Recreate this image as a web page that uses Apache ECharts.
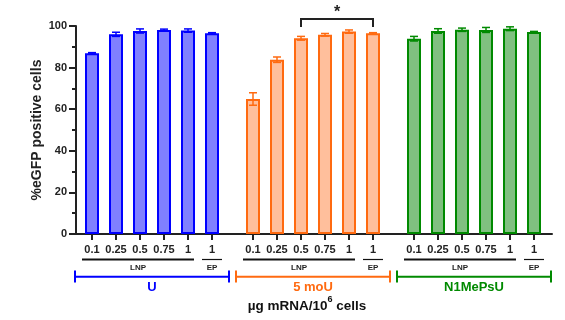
<!DOCTYPE html>
<html lang="en">
<head>
    <meta charset="UTF-8">
    <title>eGFP</title>
    <script src="https://cdn.jsdelivr.net/npm/echarts@6/dist/echarts.min.js"></script>
    <style>
        * { margin: 0; padding: 0 }
        html, body { width: 100%; height: 100%; background: #fff; }
        #main { width: 565px; height: 320px; }
    </style>
</head>
<body>
<div id="main"></div>
<script type="text/javascript">
    // doses (ug mRNA / 10^6 cells); last one is EP, the rest LNP
    var doses = ['0.1', '0.25', '0.5', '0.75', '1', '1'];
    var groupNames = ['U', '5 moU', 'N1MePsU'];
    var uMean = [86.9, 96.0, 97.6, 98.1, 97.8, 96.5];
    var uSd = [0.3, 1.0, 1.0, 0.4, 0.8, 0.3];
    var moUMean = [64.9, 83.8, 94.1, 95.8, 97.3, 96.5];
    var moUSd = [3.0, 1.3, 0.9, 0.6, 0.8, 0.3];
    var n1Mean = [93.9, 97.6, 98.2, 98.1, 98.7, 97.1];
    var n1Sd = [1.1, 1.1, 0.8, 1.2, 0.9, 0.3];
    var yTicks = [0, 20, 40, 60, 80, 100];

    var means = [uMean, moUMean, n1Mean];
    var sds = [uSd, moUSd, n1Sd];
    var fills = ['#8080ff', '#ffbf9c', '#80c080'];
    var lines = ['#0000ff', '#ff6a10', '#008a00'];
    var font = 'Liberation Sans, Arial, sans-serif';

    var chart = echarts.init(document.getElementById('main'));

    var grids = [{left: 76, right: 13, top: 26, bottom: 86}];
    var xAxes = [{
        type: 'value', gridIndex: 0, min: 0, max: 1,
        axisLine: {lineStyle: {color: '#222', width: 2}},
        axisTick: {show: false}, axisLabel: {show: false}, splitLine: {show: false}
    }];
    var yAxes = [{
        type: 'value', gridIndex: 0, min: 0, max: 100, interval: 20,
        name: '%eGFP positive cells', nameLocation: 'middle', nameGap: 32, nameMoveOverlap: false,
        nameTextStyle: {fontFamily: font, fontWeight: 'bold', fontSize: 14, color: '#222'},
        axisLine: {show: true, lineStyle: {color: '#222', width: 2}},
        axisTick: {length: 7, lineStyle: {width: 2, color: '#222'}},
        minorTick: {show: true, splitNumber: 2, length: 4, lineStyle: {width: 2, color: '#222'}},
        axisLabel: {fontFamily: font, fontWeight: 'bold', fontSize: 11, color: '#222', margin: 9,
            formatter: function (v) { return yTicks.indexOf(v) >= 0 ? v : ''; }},
        splitLine: {show: false}
    }];
    var series = [];
    var lefts = [80, 241, 402];

    function annot(g) {
        return function (params, api) {
            var c0 = api.coord([0, 0]);
            var c4 = api.coord([4, 0]);
            var c5 = api.coord([5, 0]);
            var y0 = c0[1];
            var col = lines[g];
            var bl = c0[0] - 17, br = c5[0] + 17;
            var ts = {fontFamily: font, fontWeight: 'bold', fontSize: 8, fill: '#222',
                textAlign: 'center', textVerticalAlign: 'middle'};
            return {
                type: 'group',
                children: [
                    {type: 'line', shape: {x1: c0[0] - 10, y1: y0 + 25.5, x2: c4[0] + 6, y2: y0 + 25.5},
                        style: {stroke: '#111', lineWidth: 2}},
                    {type: 'text', style: Object.assign({text: 'LNP', x: (c0[0] + c4[0] - 4) / 2, y: y0 + 34}, ts)},
                    {type: 'line', shape: {x1: c5[0] - 10, y1: y0 + 25.5, x2: c5[0] + 10, y2: y0 + 25.5},
                        style: {stroke: '#111', lineWidth: 1.2}},
                    {type: 'text', style: Object.assign({text: 'EP', x: c5[0], y: y0 + 34}, ts)},
                    {type: 'line', shape: {x1: bl, y1: y0 + 42.7, x2: br, y2: y0 + 42.7},
                        style: {stroke: col, lineWidth: 2}},
                    {type: 'line', shape: {x1: bl, y1: y0 + 36.5, x2: bl, y2: y0 + 48.5},
                        style: {stroke: col, lineWidth: 2}},
                    {type: 'line', shape: {x1: br, y1: y0 + 36.5, x2: br, y2: y0 + 48.5},
                        style: {stroke: col, lineWidth: 2}},
                    {type: 'text', style: {text: groupNames[g], x: (bl + br) / 2, y: y0 + 53,
                        fontFamily: font, fontWeight: 'bold', fontSize: 13, fill: col,
                        textAlign: 'center', textVerticalAlign: 'middle'}}
                ]
            };
        };
    }

    for (var g = 0; g < 3; g++) {
        var gi = g + 1;
        grids.push({left: lefts[g], width: 144, top: 26, bottom: 86});
        xAxes.push({
            type: 'category', gridIndex: gi, data: doses,
            axisLine: {show: false},
            axisTick: {show: true, alignWithLabel: true, length: 6, lineStyle: {width: 2, color: '#222'}},
            axisLabel: {fontFamily: font, fontWeight: 'bold', fontSize: 11, color: '#222', margin: 10, interval: 0}
        });
        yAxes.push({type: 'value', gridIndex: gi, min: 0, max: 100, show: false});
        series.push({
            type: 'bar', xAxisIndex: gi, yAxisIndex: gi, barWidth: 14,
            itemStyle: {color: fills[g], borderColor: lines[g], borderWidth: 2},
            data: means[g]
        });
        series.push({
            type: 'custom', xAxisIndex: gi, yAxisIndex: gi, z: 5,
            data: means[g].map(function (m, i) { return [i, m, sds[g][i]]; }),
            renderItem: (function (col) {
                return function (params, api) {
                    var i = api.value(0), m = api.value(1), s = api.value(2);
                    var hi = api.coord([i, m + s]), lo = api.coord([i, m - s]);
                    var st = {stroke: col, lineWidth: 1.5};
                    return {type: 'group', children: [
                        {type: 'line', shape: {x1: hi[0], y1: hi[1], x2: lo[0], y2: lo[1]}, style: st},
                        {type: 'line', shape: {x1: hi[0] - 4, y1: hi[1], x2: hi[0] + 4, y2: hi[1]}, style: st},
                        {type: 'line', shape: {x1: lo[0] - 4, y1: lo[1], x2: lo[0] + 4, y2: lo[1]}, style: st}
                    ]};
                };
            })(lines[g])
        });
        series.push({
            type: 'custom', xAxisIndex: gi, yAxisIndex: gi, silent: true,
            data: [[0, 0]], renderItem: annot(g)
        });
    }

    // significance bracket between 0.5 LNP and EP (5 moU)
    series.push({
        type: 'custom', xAxisIndex: 2, yAxisIndex: 2, silent: true,
        data: [[2, 5]],
        renderItem: function (params, api) {
            var a = api.coord([api.value(0), 100]);
            var b = api.coord([api.value(1), 100]);
            var yt = a[1] - 7;
            return {type: 'group', children: [
                {type: 'polyline', shape: {points: [[a[0], a[1] + 1], [a[0], yt], [b[0], yt], [b[0], b[1] + 1]]},
                    style: {stroke: '#222', lineWidth: 2, fill: null}},
                {type: 'text', style: {text: '*', x: (a[0] + b[0]) / 2, y: yt - 14, fontFamily: font,
                    fontWeight: 'bold', fontSize: 16, fill: '#222', textAlign: 'center', textVerticalAlign: 'top'}}
            ]};
        }
    });

    chart.setOption({
        animation: false,
        grid: grids,
        xAxis: xAxes,
        yAxis: yAxes,
        series: series,
        graphic: [{
            type: 'text', x: 307, y: 304,
            style: {
                text: '{a|µg mRNA/10}{s|6}{a| cells}',
                textAlign: 'center', textVerticalAlign: 'middle',
                rich: {
                    a: {fontFamily: font, fontWeight: 'bold', fontSize: 13.5, lineHeight: 18, verticalAlign: 'bottom', fill: '#111'},
                    s: {fontFamily: font, fontWeight: 'bold', fontSize: 9, lineHeight: 10, verticalAlign: 'top', fill: '#111'}
                }
            }
        }]
    });
</script>
</body>
</html>
